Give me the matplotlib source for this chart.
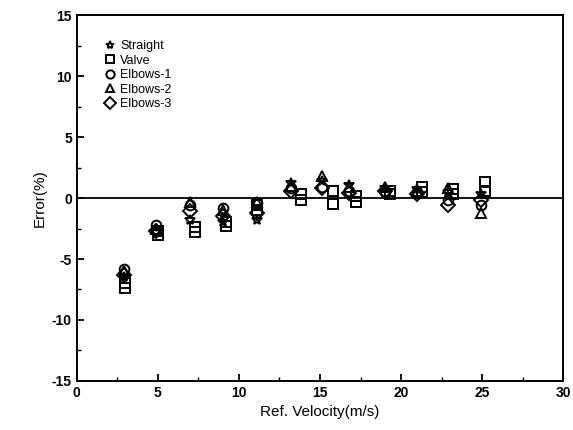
import matplotlib
matplotlib.use('Agg')
import matplotlib.pyplot as plt
from matplotlib.ticker import MultipleLocator

plt.rcParams['font.family'] = ['Liberation Sans', 'DejaVu Sans']
plt.rcParams['axes.unicode_minus'] = False

# velocità di riferimento (m/s) ed errori (%)
v_main = [2.9, 4.9, 7.0, 9.0, 11.1, 13.2, 15.1, 16.8, 19.0, 21.0, 22.9, 24.9]
v_valve = [3.0, 5.0, 7.3, 9.2, 11.1, 13.8, 15.8, 17.2, 19.3, 21.3, 23.2, 25.2]

err_straight = [-6.5, -2.8, -1.8, -2.0, -1.8, 1.2, 1.4, 1.1, 0.8, 0.7, 0.5, 0.3]
err_valve = [-7.4, -3.0, -2.8, -2.3, -1.0, -0.2, -0.5, -0.3, 0.3, 0.9, 0.7, 1.3]
err_valve_b = [-7.0, -2.7, -2.4, -2.0, -0.6, 0.3, 0.6, 0.2, 0.6, 0.5, 0.3, 0.6]
err_elbows1 = [-5.8, -2.2, -0.6, -0.8, -0.4, 0.8, 0.9, 0.6, 0.5, 0.5, -0.2, -0.6]
err_elbows2 = [-6.0, -2.5, -0.3, -1.0, -0.3, 1.0, 1.8, 0.9, 0.9, 0.6, 0.8, -1.2]
err_elbows3 = [-6.3, -2.7, -1.1, -1.5, -1.2, 0.6, 0.8, 0.4, 0.6, 0.3, -0.6, -0.2]

fig = plt.figure(figsize=(5.73, 4.3), dpi=100)
ax = fig.add_axes([0.134, 0.114, 0.849, 0.851])

ax.axhline(0, color='black', lw=1.3, zorder=1)

stile = dict(ls='none', mfc='none', mec='black', mew=1.4, ms=7)
ax.plot(v_main, err_straight, marker='*', label='Straight', **stile)
ax.plot(v_valve, err_valve, marker='s', label='Valve', **stile)
ax.plot(v_valve, err_valve_b, marker='s', **stile)
ax.plot(v_main, err_elbows1, marker='o', label='Elbows-1', **stile)
ax.plot(v_main, err_elbows2, marker='^', label='Elbows-2', **stile)
ax.plot(v_main, err_elbows3, marker='D', label='Elbows-3', **stile)

ax.set_xlim(0, 30)
ax.set_ylim(-15, 15)
ax.xaxis.set_major_locator(MultipleLocator(5))
ax.xaxis.set_minor_locator(MultipleLocator(2.5))
ax.yaxis.set_major_locator(MultipleLocator(5))
ax.yaxis.set_minor_locator(MultipleLocator(2.5))
ax.tick_params(which='both', direction='in', labelsize=10)
ax.tick_params(which='major', length=5, width=1.3)
ax.tick_params(which='minor', length=3, width=1)
for t in ax.get_xticklabels() + ax.get_yticklabels():
    t.set_fontweight('bold')
for s in ax.spines.values():
    s.set_linewidth(1.4)

ax.set_xlabel('Ref. Velocity(m/s)', fontsize=11)
ax.set_ylabel('Error(%)', fontsize=11)

leg = ax.legend(loc='upper left', frameon=False, fontsize=9, handletextpad=0.3,
                labelspacing=0.2, borderaxespad=0, bbox_to_anchor=(0.045, 0.945),
                handlelength=1.0, markerscale=0.85)

fig.savefig('out.png', dpi=100)
